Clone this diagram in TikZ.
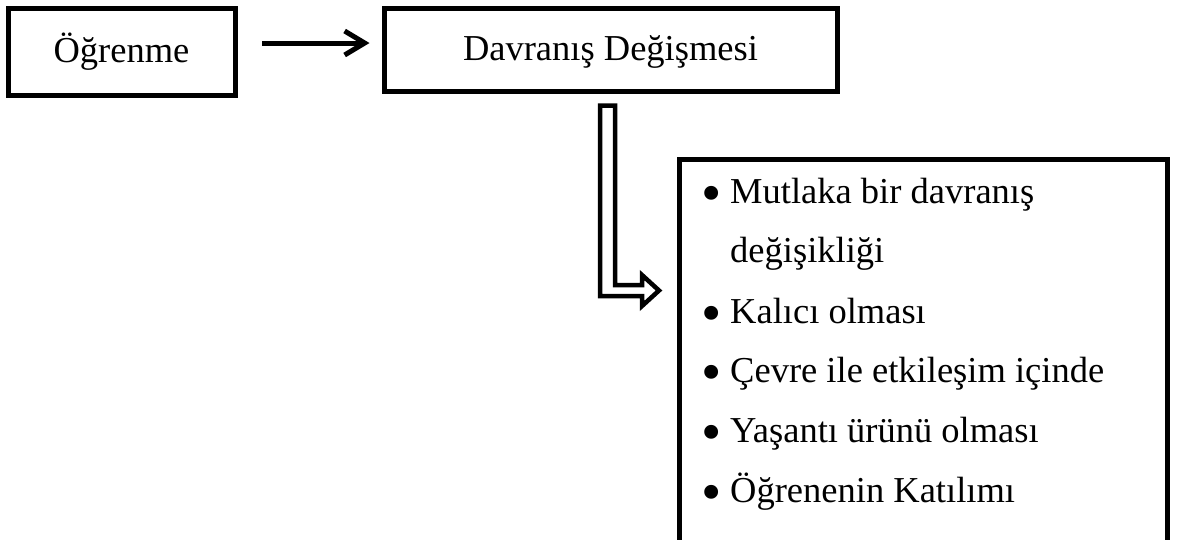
\documentclass[tikz,border=0pt]{standalone}
\usepackage{fontspec}
\setmainfont{Liberation Serif}
\usetikzlibrary{arrows.meta}
\tikzset{
  box/.style={draw=black, line width=5pt, rectangle, inner sep=0pt, text height=22pt, text depth=0pt},
  txt/.style={inner sep=0pt, anchor=base west},
  bul/.style={inner sep=0pt, anchor=base, font=\fontsize{58}{58}\selectfont},
  arr/.style={line width=5pt, -{Straight Barb[length=20pt,width=24pt,line width=5pt]}},
  hollow/.style={draw=black, line width=4.5pt, line join=miter, fill=white}
}
\begin{document}
\begin{tikzpicture}[x=1pt,y=-1pt, font=\fontsize{36.5}{44}\selectfont]
\useasboundingbox (0,0) rectangle (1193,539);
\node[box, minimum width=227pt, minimum height=87pt] (b1) at (121.5,51.5) {Öğrenme};
\node[box, minimum width=453pt, minimum height=83pt] (b2) at (610.5,49.5) {Davranış Değişmesi};
\node[box, minimum width=488pt, minimum height=384pt] (b3) at (923.5,351.5) {};
\draw[arr] ([xshift=24.5pt,yshift=8.5pt]b1.east) -- ([xshift=-12pt,yshift=6.5pt]b2.west);
% hollow double arrow
\draw[hollow] (600,105.5) -- (615,105.5) -- (615,285) -- (642,285) -- (642,275)
  -- (659,290.5) -- (642,306) -- (642,296) -- (600,296) -- cycle;
\node[bul] (d1) at (712,212) {•};
\node[txt] (t1) at (730,203) {Mutlaka bir davranış};
\node[txt] (t1b) at (730,262) {değişikliği};
\node[bul] (d2) at (712,332) {•};
\node[txt] (t2) at (730,323) {Kalıcı olması};
\node[bul] (d3) at (712,391) {•};
\node[txt] (t3) at (730,382) {Çevre ile etkileşim içinde};
\node[bul] (d4) at (712,451) {•};
\node[txt] (t4) at (730,442) {Yaşantı ürünü olması};
\node[bul] (d5) at (712,511) {•};
\node[txt] (t5) at (730,502) {Öğrenenin Katılımı};
\end{tikzpicture}
\end{document}
